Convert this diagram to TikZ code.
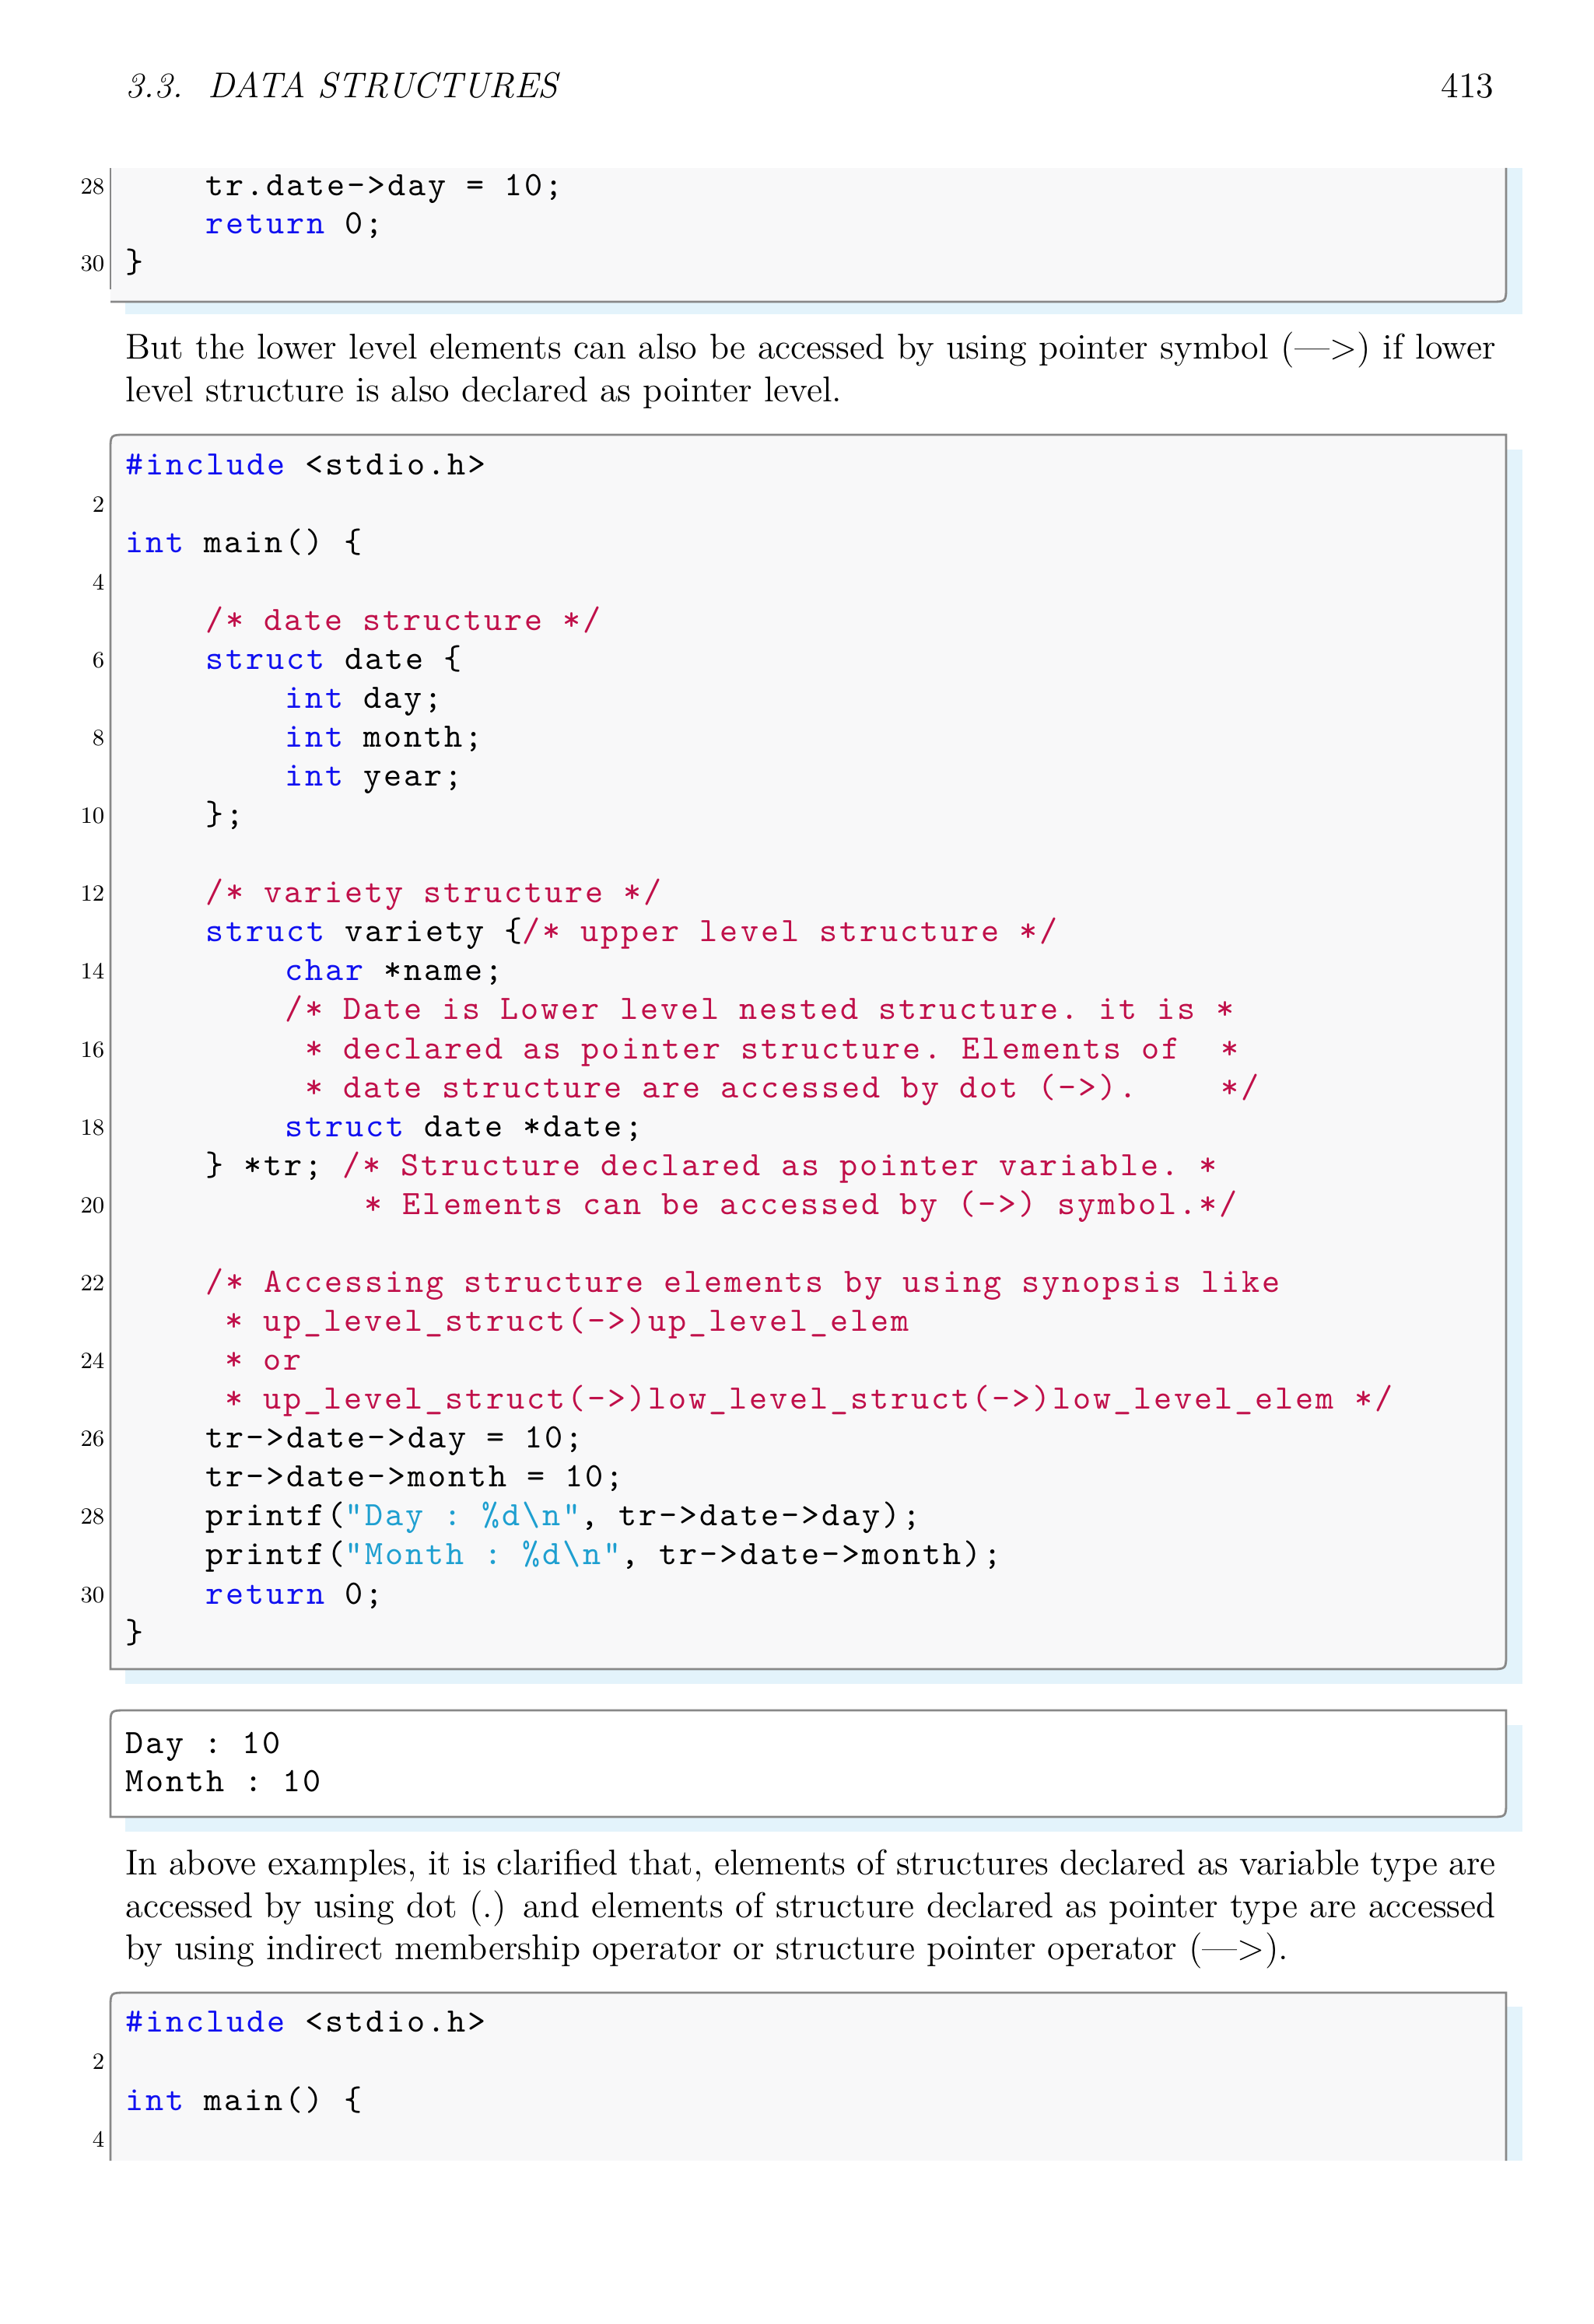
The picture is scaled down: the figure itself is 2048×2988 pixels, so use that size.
\documentclass[tikz,border=0pt]{standalone}
\usepackage{fontspec}
\setmonofont[LetterSpace=6.7]{lmmono10-regular.otf}
\definecolor{kwc}{HTML}{1010F0}
\definecolor{cmc}{HTML}{C0104A}
\definecolor{stc}{HTML}{1E9FD0}
\definecolor{framec}{HTML}{888888}
\definecolor{shadc}{HTML}{E3F3FB}
\definecolor{codebg}{HTML}{F8F8F9}
\newcommand\kw[1]{\textcolor{kwc}{#1}}
\newcommand\cmt[1]{\textcolor{cmc}{#1}}
\newcommand\strg[1]{\textcolor{stc}{#1}}
\newcommand\cl[3]{\node[codetext] at ({161+#2*25.6},{#1+11}) {#3};}
\newcommand\lnr[2]{\node[lnum] at (135,{#1+9}) {#2};}
\tikzset{
  codetext/.style={anchor=base west,inner sep=0pt,font=\fontsize{12.5}{14}\ttfamily},
  lnum/.style={anchor=base east,inner sep=0pt,font=\fontsize{8.5}{10}\selectfont},
  frame/.style={draw=framec,line width=0.8pt},
  shadow/.style={fill=shadc,draw=none},
  body/.style={anchor=north west,inner sep=0pt,text width=17.6cm,align=justify,font=\fontsize{13.1}{15.6}\selectfont}
}
\begin{document}
\begin{tikzpicture}[x=0.01cm,y=-0.01cm]
\useasboundingbox[fill=white] (0,0) rectangle (2048,2988);
% header
\node[anchor=west,inner sep=0pt,font=\fontsize{13.1}{15}\itshape] (hdr) at (161,110) {3.3.\ \ DATA STRUCTURES};
\node[anchor=east,inner sep=0pt,font=\fontsize{13.1}{15}\selectfont] (pg) at (1921,110) {413};
% box 1
\fill[shadow] (161,216) rectangle (1957,404);
\fill[codebg] (142,216) rectangle (1936,388);
\draw[frame] (142,216) -- (142,372);
\draw[frame] (142,388) -- (1916,388) .. controls (1936,388) .. (1936,368) -- (1936,216);
\cl{241}{4}{tr.date->day = 10;}
\cl{290}{4}{\kw{return} 0;}
\cl{340}{0}{\}}
\lnr{241}{28}\lnr{340}{30}
% paragraph 1
\node[body] (p1) at (161,426) {But the lower level elements can also be accessed by using pointer symbol (—>) if lower\linebreak level structure is also declared as pointer level.};
% box 2
\fill[shadow] (161,578) rectangle (1957,2165);
\draw[frame,fill=codebg] (142,2146) -- (142,579) .. controls (142,559) .. (162,559) -- (1936,559) -- (1936,2126) .. controls (1936,2146) .. (1916,2146) -- cycle;
\foreach \k/\c/\t in {
 1/0/{\kw{\#include} <stdio.h>},
 3/0/{\kw{int} main() \{},
 5/4/{\cmt{/* date structure */}},
 6/4/{\kw{struct} date \{},
 7/8/{\kw{int} day;},
 8/8/{\kw{int} month;},
 9/8/{\kw{int} year;},
 10/4/{\};},
 12/4/{\cmt{/* variety structure */}},
 13/4/{\kw{struct} variety \{\cmt{/* upper level structure */}},
 14/8/{\kw{char} *name;},
 15/8/{\cmt{/* Date is Lower level nested structure. it is *}},
 16/9/{\cmt{* declared as pointer structure. Elements of}},
 16/55/{\cmt{*}},
 17/9/{\cmt{* date structure are accessed by dot (->).}},
 17/55/{\cmt{*/}},
 18/8/{\kw{struct} date *date;},
 19/4/{\} *tr; \cmt{/* Structure declared as pointer variable. *}},
 20/12/{\cmt{* Elements can be accessed by (->) symbol.*/}},
 22/4/{\cmt{/* Accessing structure elements by using synopsis like}},
 23/5/{\cmt{* up\_level\_struct(->)up\_level\_elem}},
 24/5/{\cmt{* or}},
 25/5/{\cmt{* up\_level\_struct(->)low\_level\_struct(->)low\_level\_elem */}},
 26/4/{tr->date->day = 10;},
 27/4/{tr->date->month = 10;},
 28/4/{printf(\strg{"Day : \%d\textbackslash n"}, tr->date->day);},
 29/4/{printf(\strg{"Month : \%d\textbackslash n"}, tr->date->month);},
 30/4/{\kw{return} 0;},
 31/0/{\}}}
 {\pgfmathsetmacro\yy{599+(\k-1)*50.07}\cl{\yy}{\c}{\t}}
\foreach \k in {2,4,...,30}{\pgfmathsetmacro\yy{599+(\k-1)*50.07}\lnr{\yy}{\k}}
% box 3
\fill[shadow] (161,2218) rectangle (1957,2355);
\draw[frame,fill=white] (142,2336) -- (142,2219) .. controls (142,2199) .. (162,2199) -- (1936,2199) -- (1936,2316) .. controls (1936,2336) .. (1916,2336) -- cycle;
\cl{2243}{0}{Day : 10}
\cl{2292}{0}{Month : 10}
% paragraph 2
\node[body] (p2) at (161,2377) {In above examples, it is clarified that, elements of structures declared as variable type are\linebreak accessed by using dot (.) and elements of structure declared as pointer type are accessed\linebreak by using indirect membership operator or structure pointer operator (—>).};
% box 4
\fill[shadow] (161,2580) rectangle (1957,2778);
\fill[codebg] (142,2778) -- (142,2582) .. controls (142,2562) .. (162,2562) -- (1936,2562) -- (1936,2778) -- cycle;
\draw[frame] (142,2778) -- (142,2582) .. controls (142,2562) .. (162,2562) -- (1936,2562) -- (1936,2778);
\cl{2601}{0}{\kw{\#include} <stdio.h>}
\cl{2702}{0}{\kw{int} main() \{}
\lnr{2651}{2}\lnr{2751}{4}
\end{tikzpicture}
\end{document}
